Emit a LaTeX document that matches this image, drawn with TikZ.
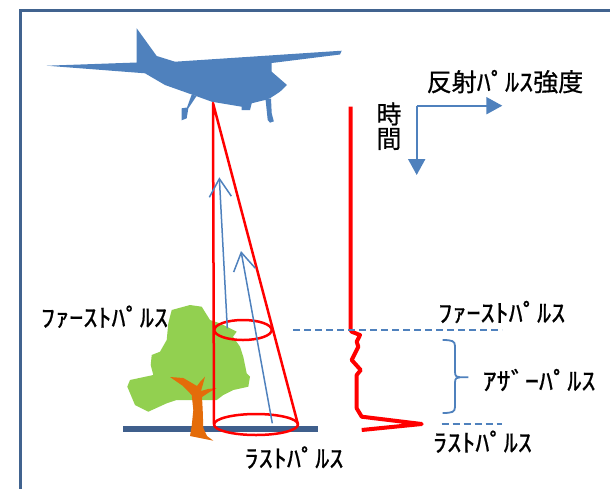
\documentclass[tikz,border=0pt]{standalone}
\usepackage{fontspec}
\usepackage{graphicx}
\setmainfont{Noto Sans CJK JP}
\newfontfamily\lblfont[FakeBold=0.6]{Noto Sans CJK JP}
\usetikzlibrary{arrows.meta}
\definecolor{planeblue}{HTML}{4F81BD}
\definecolor{framecol}{HTML}{41638F}
\definecolor{groundcol}{HTML}{3F5F8C}
\definecolor{treegreen}{HTML}{92D050}
\definecolor{trunkorange}{HTML}{E46C0A}
\definecolor{beamred}{HTML}{FF0000}
\newcommand\hw[1]{\scalebox{1.13}[1]{#1}}
\tikzset{
  beam/.style={draw=beamred,line width=2.5pt,line join=round},
  wave/.style={draw=beamred,line width=4pt,line join=round},
  echo/.style={draw=planeblue,line width=1.5pt,-{Straight Barb[length=18pt,width=22pt,line width=1.5pt]}},
  level/.style={draw=planeblue,line width=1.8pt,dash pattern=on 7pt off 4pt},
  axis/.style={draw=planeblue,line width=2pt,-{Triangle[length=16pt,width=17pt]}},
  label/.style={inner sep=0pt,font=\lblfont\fontsize{25}{27}\selectfont,text=black},
}
\begin{document}
\begin{tikzpicture}[x=1pt,y=-1pt]
\useasboundingbox (0,0) rectangle (610,488);
% frame
\draw[framecol,line width=2.7pt] (20.7,495) -- (20.7,10.5) -- (620,10.5);

% aircraft
\fill[planeblue] (46.7,65.7) -- (136.7,62.5) -- (136.7,28.3) -- (156.7,56) -- (175,61.7)
  -- (341.7,50.7) -- (340,54.5) -- (271.7,63) -- (271.7,71.7) -- (287,85) -- (280,91.7)
  -- (270,98.3) -- (265,100) -- (251.7,103.3) -- (250,110) -- (241.7,110) -- (241.7,106.7)
  -- (211.7,101.7) -- (196,96) -- (165,85) -- (145,73.3) -- cycle;
\fill[planeblue] (191.7,94.5) -- (196.5,96) -- (188.3,108.3) -- (186.7,118.3) -- (181.7,120.3)
  -- (181.7,108.3) -- (187,107.5) -- cycle;
\fill[planeblue] (265.5,99) -- (271,98.5) -- (271.7,113.3) -- (273.8,121.3) -- (270,122.7)
  -- (267.7,120) -- cycle;

% tree
\fill[treegreen] (171.7,310) -- (190,305) -- (201.7,306.7) -- (210,320) -- (220,323.3)
  -- (236.7,331.7) -- (233,336.7) -- (240,346.7) -- (243.3,356.7) -- (246.7,373.3)
  -- (250,376.7) -- (248.3,386.7) -- (233.3,390) -- (223.3,395) -- (216.7,400)
  -- (203.3,400) -- (176.7,400) -- (166.7,403.3) -- (148.3,411.7) -- (135,405)
  -- (127.3,386.7) -- (130,380) -- (153.3,375) -- (150.7,365) -- (151.7,355)
  -- (160,351.7) -- (166.7,340) -- (168.3,323.3) -- cycle;
% ground
\fill[groundcol] (122.7,425.5) rectangle (318.3,431.5);
% trunk
\fill[trunkorange] (190,436) -- (191.7,426) -- (193.3,410) -- (191.7,395) -- (183,386)
  -- (170,377) -- (183.3,378) -- (197,386) -- (200,382) -- (205,376.7) -- (203,384)
  -- (201,391) -- (208,389) -- (216.7,388) -- (208,393) -- (202,397) -- (202.7,410)
  -- (203.3,428) -- (207,436) -- (213.3,440.7) -- cycle;

% laser beam cone
\coordinate (apex) at (213,103);
\coordinate (footL) at (214,424.5);
\coordinate (footR) at (298,424.5);
\draw[beam] (footL) -- (apex) -- (footR);
\draw[beam] (243,330) ellipse [x radius=28.7pt,y radius=10pt];
\draw[beam] (256,424.5) ellipse [x radius=42pt,y radius=10.5pt];

% returning pulses
\coordinate (r1s) at (227.3,328.3);
\coordinate (r1e) at (219.3,177.3);
\coordinate (r2s) at (272.3,423.3);
\coordinate (r2e) at (241,251);
\draw[echo] (r1s) -- (r1e);
\draw[echo] (r2s) -- (r2e);

% return waveform
\draw[wave] (350.7,106.7) -- (350.7,330) -- (351.7,331.7) -- (360,335) -- (356.7,341.7)
  -- (358.3,346.7) -- (351.7,360) -- (360.7,370) -- (356.7,375) -- (356.7,408.3)
  -- (361.7,416.7) -- (421.7,424) -- (361.7,430);

% reference levels
\coordinate (l1a) at (293.3,330);
\coordinate (l1b) at (502.3,330);
\coordinate (l2a) at (441.7,424.3);
\coordinate (l2b) at (501.7,424.3);
\draw[level] (l1a) -- (l1b);
\draw[level] (l2a) -- (l2b);

% brace
\draw[planeblue,line width=1.8pt,line join=round]
  (442.7,340) .. controls (452,340) and (455,341) .. (455,346) -- (455,372)
  .. controls (455,376.5) and (457,377.3) .. (460,377.3) -- (468.3,377.3);
\draw[planeblue,line width=1.8pt,line join=round]
  (460,377.3) .. controls (457,377.3) and (455,378) .. (455,382.5) -- (455,407)
  .. controls (455,412) and (452,413) .. (442.7,413);

% axes
\coordinate (corner) at (416.7,105.7);
\coordinate (xend) at (502.3,105.7);
\coordinate (yend) at (416.7,175);
\draw[axis] (corner) -- (xend);
\draw[axis] (corner) -- (yend);

% labels
\node[label] (tint) at (505,81.7) {反射\hw{ﾊﾟﾙｽ}強度};
\node[label] (ttime1) at (389,114) {時};
\node[label] (ttime2) at (389,139) {間};
\node[label] (tfirstL) at (104.5,316.7) {\hw{ﾌｧｰｽﾄﾊﾟﾙｽ}};
\node[label] (tfirstR) at (501.7,312) {\hw{ﾌｧｰｽﾄﾊﾟﾙｽ}};
\node[label] (tother) at (539,380) {\hw{ｱｻﾞｰﾊﾟﾙｽ}};
\node[label] (tlastR) at (482.5,441.7) {\hw{ﾗｽﾄﾊﾟﾙｽ}};
\node[label] (tlastB) at (294,457.5) {\hw{ﾗｽﾄﾊﾟﾙｽ}};
\end{tikzpicture}
\end{document}
